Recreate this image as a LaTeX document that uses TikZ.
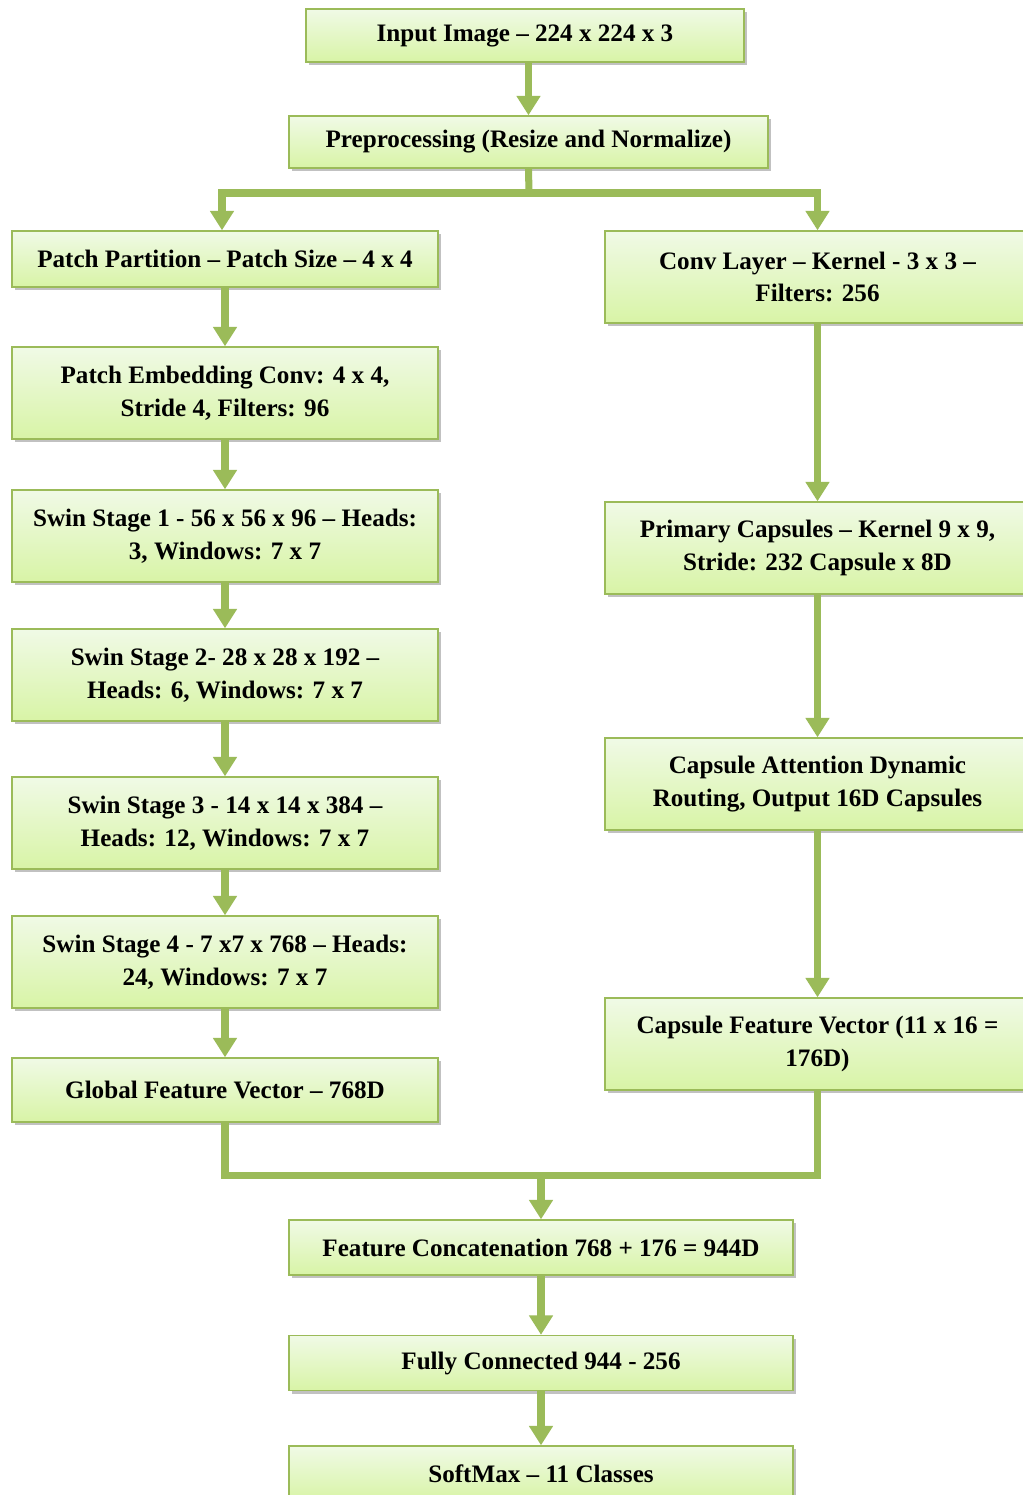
\documentclass[tikz,border=0pt]{standalone}
\usepackage{fontspec}
\setmainfont{Liberation Serif}
\usetikzlibrary{arrows.meta,shadows}
\definecolor{boxtop}{HTML}{F0FAE6}
\definecolor{boxbot}{HTML}{D8F4A6}
\definecolor{linegreen}{HTML}{9BBB59}
\tikzset{
    box/.style={draw=linegreen, line width=0.8pt, top color=boxtop, bottom color=boxbot,
        drop shadow={shadow xshift=1.5pt, shadow yshift=-1.8pt, opacity=0.4, fill=black!60},
        align=center, inner sep=0pt, font=\fontsize{14.3}{18.7}\selectfont\bfseries},
    leftbox/.style={box, minimum width=8.52cm, minimum height=1.84cm},
    rightbox/.style={box, minimum width=8.5cm, minimum height=1.84cm},
    botbox/.style={box, minimum width=10.08cm, minimum height=1.1cm},
    line/.style={draw=linegreen, line width=4pt},
    arrow/.style={line, -{Triangle[width=13pt,length=11pt]}}
}
\begin{document}
\begin{tikzpicture}[x=0.02cm, y=-0.02cm]
        \useasboundingbox (0,0) rectangle (1023,1495);
        \fill[white] (0,0) rectangle (1023,1495);
        \clip (0,0) rectangle (1023,1495);
        % Draw the top boxes
        \node[box, minimum width=8.76cm, minimum height=1.06cm] (inp) at (525,35.5) {Input Image -- 224 x 224 x 3};
        \node[box, minimum width=9.58cm, minimum height=1.04cm] (pre) at (528.5,142) {Preprocessing (Resize and Normalize)};
        % Draw the Swin branch
        \node[leftbox, minimum height=1.12cm] (pp) at (225,259) {Patch Partition -- Patch Size -- 4 x 4};
        \node[leftbox] (pe) at (225,393) {Patch Embedding Conv: 4 x 4,\\ Stride 4, Filters: 96};
        \node[leftbox] (s1) at (225,536) {Swin Stage 1 - 56 x 56 x 96 -- Heads:\\ 3, Windows: 7 x 7};
        \node[leftbox] (s2) at (225,675) {Swin Stage 2- 28 x 28 x 192 --\\ Heads: 6, Windows: 7 x 7};
        \node[leftbox] (s3) at (225,823) {Swin Stage 3 - 14 x 14 x 384 --\\ Heads: 12, Windows: 7 x 7};
        \node[leftbox] (s4) at (225,962) {Swin Stage 4 - 7 x7 x 768 -- Heads:\\ 24, Windows: 7 x 7};
        \node[leftbox, minimum height=1.28cm] (gfv) at (225,1090) {Global Feature Vector -- 768D};
        % Draw the capsule branch
        \node[rightbox] (conv) at (817.5,277) {Conv Layer -- Kernel - 3 x 3 --\\ Filters: 256};
        \node[rightbox] (pc) at (817.5,548) {Primary Capsules -- Kernel 9 x 9,\\ Stride: 232 Capsule x 8D};
        \node[rightbox] (ca) at (817.5,784) {Capsule Attention Dynamic\\ Routing, Output 16D Capsules};
        \node[rightbox] (cfv) at (817.5,1044) {Capsule Feature Vector (11 x 16 =\\ 176D)};
        % Draw the bottom boxes
        \node[botbox] (cat) at (541,1247.5) {Feature Concatenation 768 + 176 = 944D};
        \node[botbox] (fc) at (541,1363) {Fully Connected 944 - 256};
        \node[botbox] (sm) at (541,1473.5) {SoftMax -- 11 Classes};
        % Draw the split and the merge
        \coordinate (split) at (529,193);
        \coordinate (merge) at (541,1175);
        \draw[arrow] (inp.south -| pre.north) -- (pre.north);
        \draw[line] (pre.south) -- (split);
        \draw[arrow] (split) -| ([xshift=-3*0.02cm]pp.north);
        \draw[arrow] (split) -| (conv.north);
        \draw[line] (gfv.south) |- (merge) -| (cfv.south);
        \draw[arrow] (merge) -- (cat.north);
        % Draw the vertical connections
        \foreach \a/\b in {pp/pe, pe/s1, s1/s2, s2/s3, s3/s4, s4/gfv, conv/pc, pc/ca, ca/cfv, cat/fc, fc/sm} {
            \draw[arrow] (\a.south) -- (\b.north);
        }
    \end{tikzpicture}
\end{document}
